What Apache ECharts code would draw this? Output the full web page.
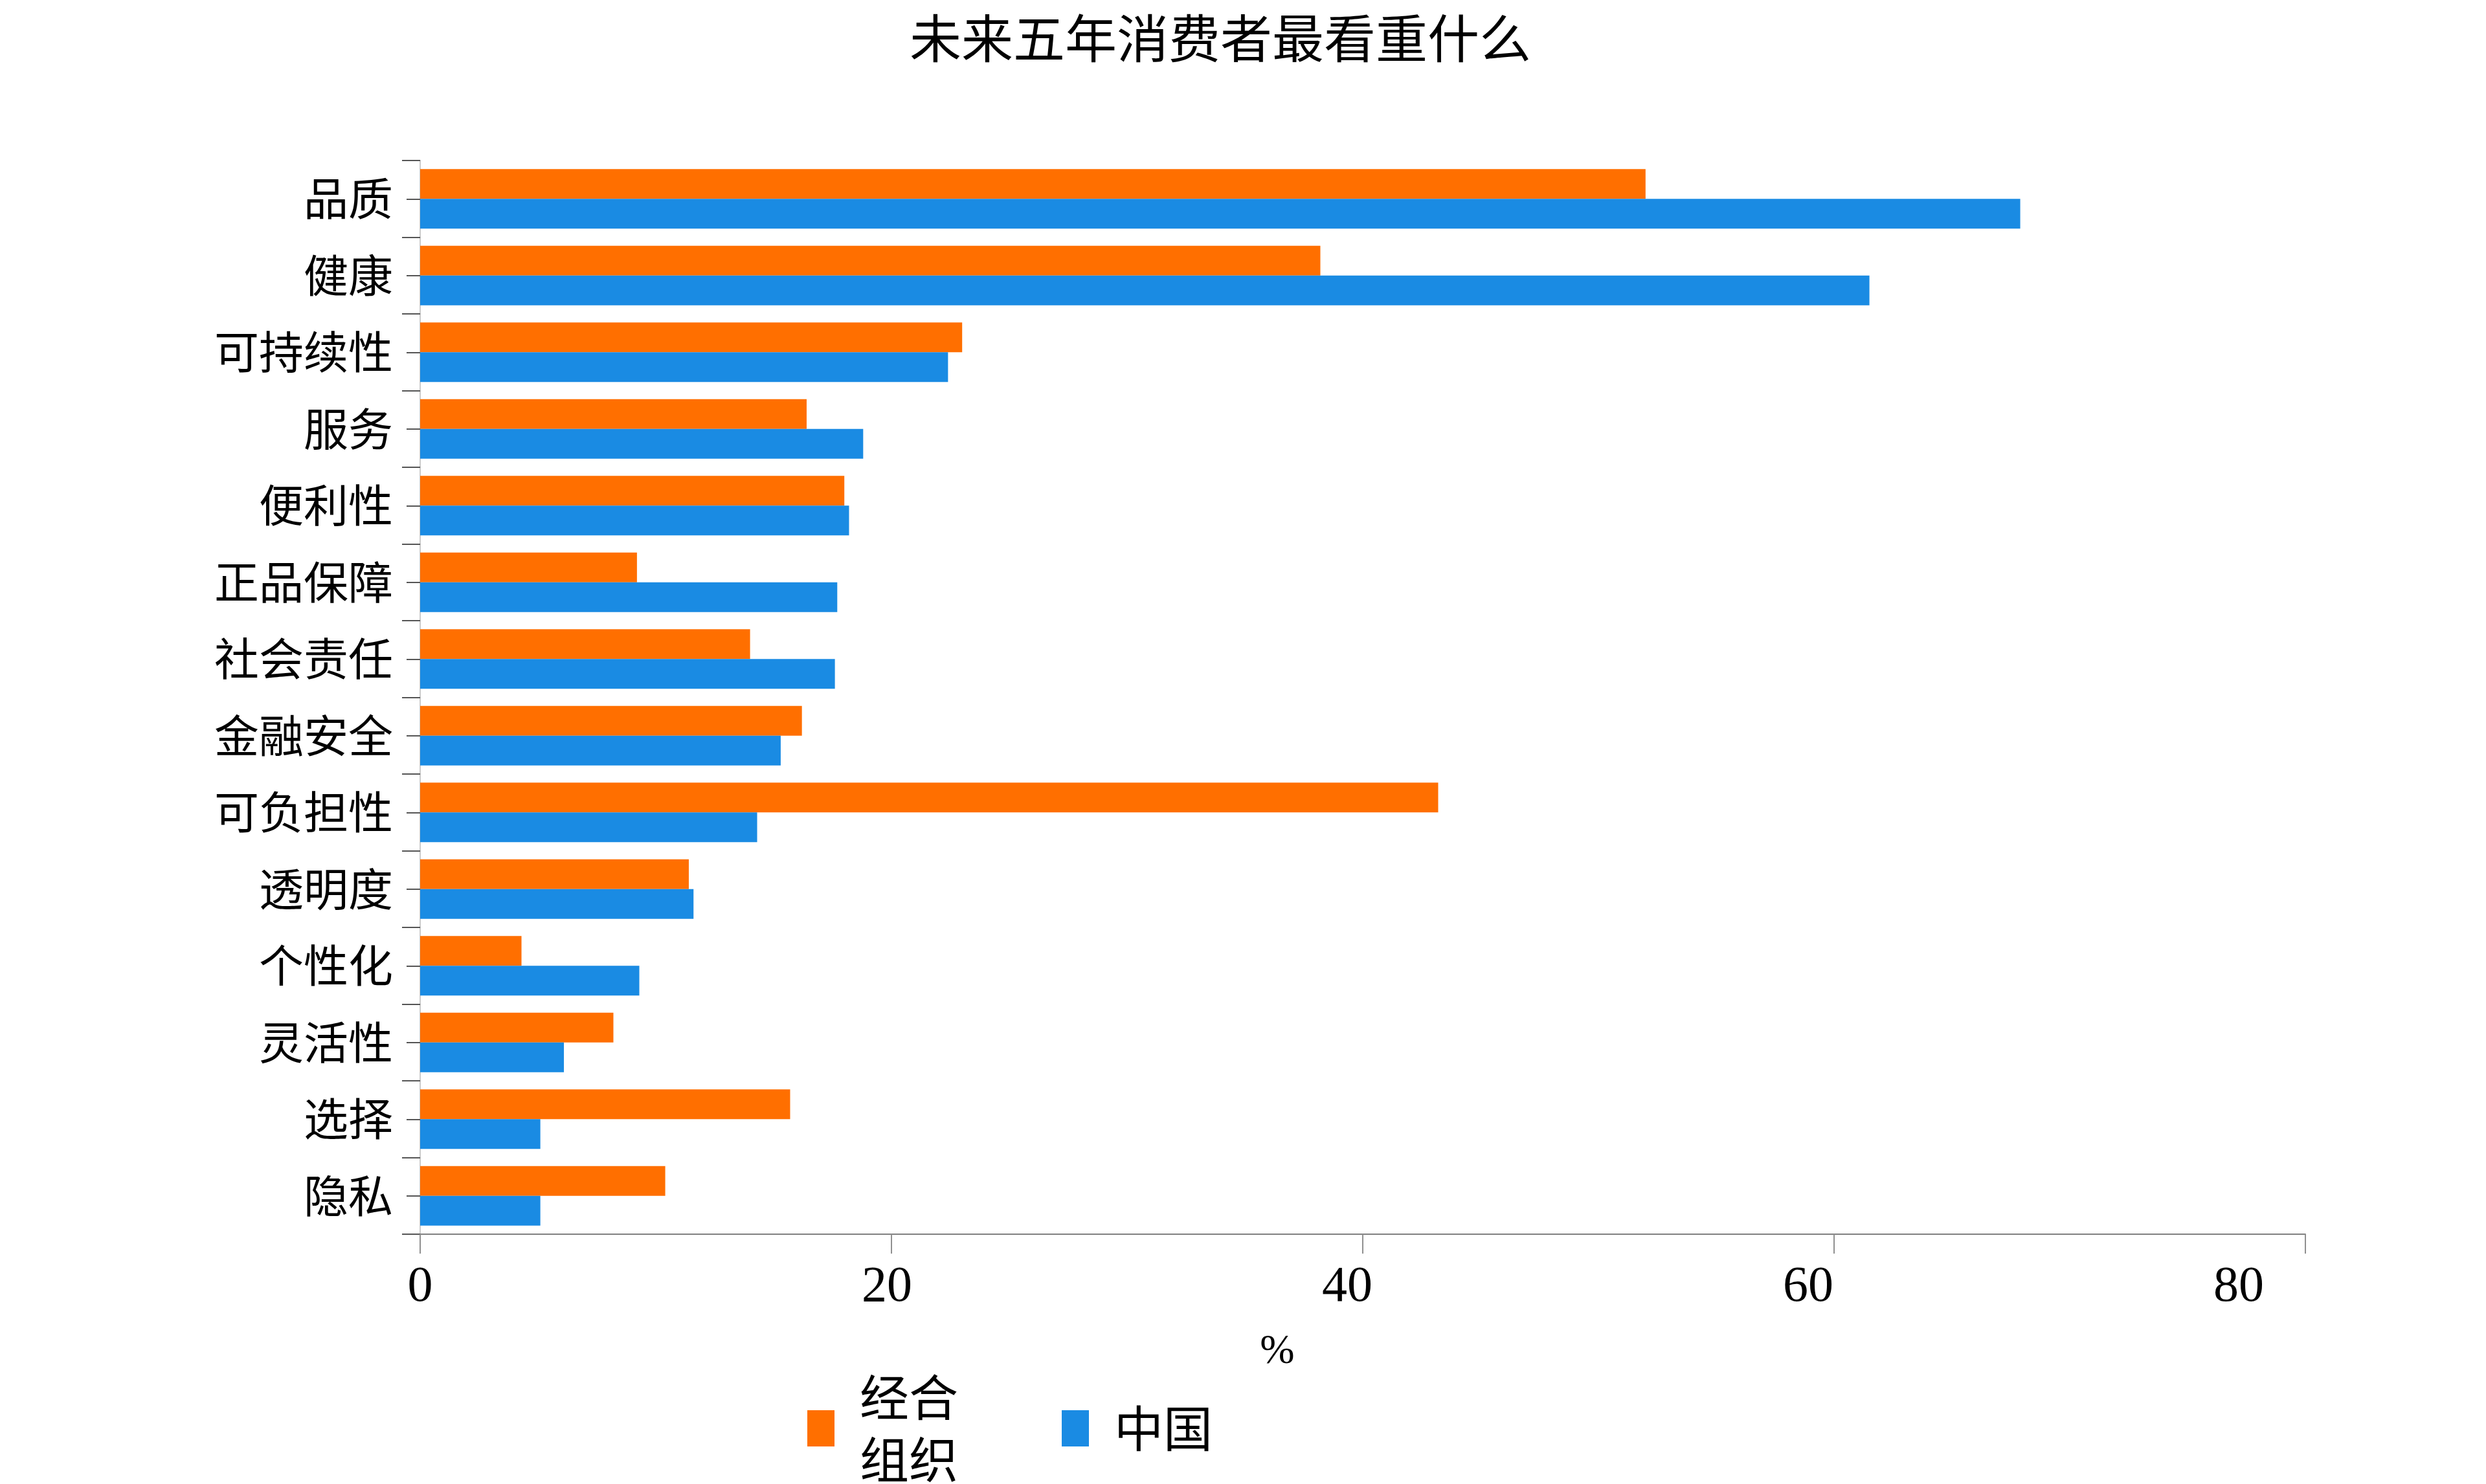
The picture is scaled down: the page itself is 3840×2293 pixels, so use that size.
<!DOCTYPE html>
<html>
<head>
<meta charset="utf-8">
<script src="https://cdn.jsdelivr.net/npm/echarts@6/dist/echarts.min.js"></script>
<style>html,body{margin:0;padding:0;background:#fff}#c{width:3840px;height:2293px}</style>
</head>
<body>
<div id="c"></div>
<script>
const titleText = '未来五年消费者最看重什么';
const categories = ['品质','健康','可持续性','服务','便利性','正品保障','社会责任','金融安全','可负担性','透明度','个性化','灵活性','选择','隐私'];
const seriesNames = ['经合组织','中国'];
const oecdValues = [52, 38.2, 23, 16.4, 18, 9.2, 14, 16.2, 43.2, 11.4, 4.3, 8.2, 15.7, 10.4];
const chinaValues = [67.9, 61.5, 22.4, 18.8, 18.2, 17.7, 17.6, 15.3, 14.3, 11.6, 9.3, 6.1, 5.1, 5.1];
const xTicks = {min: 0, max: 80, interval: 20};
const axisName = '%';

const cjk = '"Noto Sans CJK SC", sans-serif';
const serif = '"Liberation Serif", serif';
// per-label horizontal nudge (padding-right) to match the reference's label placement
const labelNudge = {0: 0, 20: 14, 40: 48, 60: 80, 80: 206};
const rich = {};
Object.keys(labelNudge).forEach(k => { rich['s' + k] = {padding: [0, labelNudge[k], 0, 0]}; });

const chart = echarts.init(document.getElementById('c'));
chart.setOption({
  backgroundColor: '#fff',
  animation: false,
  title: {
    text: titleText, left: 1400, top: 14,
    textStyle: {fontFamily: cjk, fontSize: 80, fontWeight: 'normal', color: '#000'}
  },
  legend: {
    left: 1242, top: 2106,
    itemWidth: 42, itemHeight: 56, itemGap: 160,
    icon: 'rect',
    formatter: n => n === '经合组织' ? '经合\n组织' : n,
    textStyle: {fontFamily: cjk, fontSize: 76, color: '#000', lineHeight: 96, padding: [0, 0, 0, 34]},
    data: seriesNames
  },
  grid: {left: 649, right: 279, top: 248, bottom: 386},
  xAxis: {
    type: 'value', min: xTicks.min, max: xTicks.max, interval: xTicks.interval,
    name: axisName, nameLocation: 'middle', nameGap: 150,
    nameTextStyle: {fontFamily: serif, fontSize: 64, color: '#000', padding: [0, 264, 0, 0]},
    axisLine: {show: true, lineStyle: {color: '#808080', width: 2}},
    axisTick: {show: true, length: 30, lineStyle: {color: '#909090', width: 2}},
    axisLabel: {
      fontFamily: serif, fontSize: 78, color: '#000', margin: 44,
      formatter: v => (('s' + v) in rich ? '{s' + v + '|' + v + '}' : String(v)),
      rich: rich
    },
    splitLine: {show: false}
  },
  yAxis: [{
    type: 'category', data: categories, inverse: true,
    axisLine: {show: true, lineStyle: {color: '#cccccc', width: 2}},
    axisTick: {show: true, length: 28, lineStyle: {color: '#555', width: 2}},
    axisLabel: {fontFamily: cjk, fontSize: 69, color: '#000', margin: 42}
  }, {
    type: 'category', data: categories, inverse: true, position: 'left',
    axisLine: {show: false},
    axisTick: {show: true, alignWithLabel: true, length: 21, lineStyle: {color: '#555', width: 2}},
    axisLabel: {show: false}
  }],
  series: [{
    name: seriesNames[0], type: 'bar', data: oecdValues, yAxisIndex: 0,
    barWidth: 46, barGap: '0%',
    itemStyle: {color: '#FF6F00'}
  }, {
    name: seriesNames[1], type: 'bar', data: chinaValues, yAxisIndex: 0,
    barWidth: 46, barGap: '0%',
    itemStyle: {color: '#1A8BE3'}
  }]
});
</script>
</body>
</html>
